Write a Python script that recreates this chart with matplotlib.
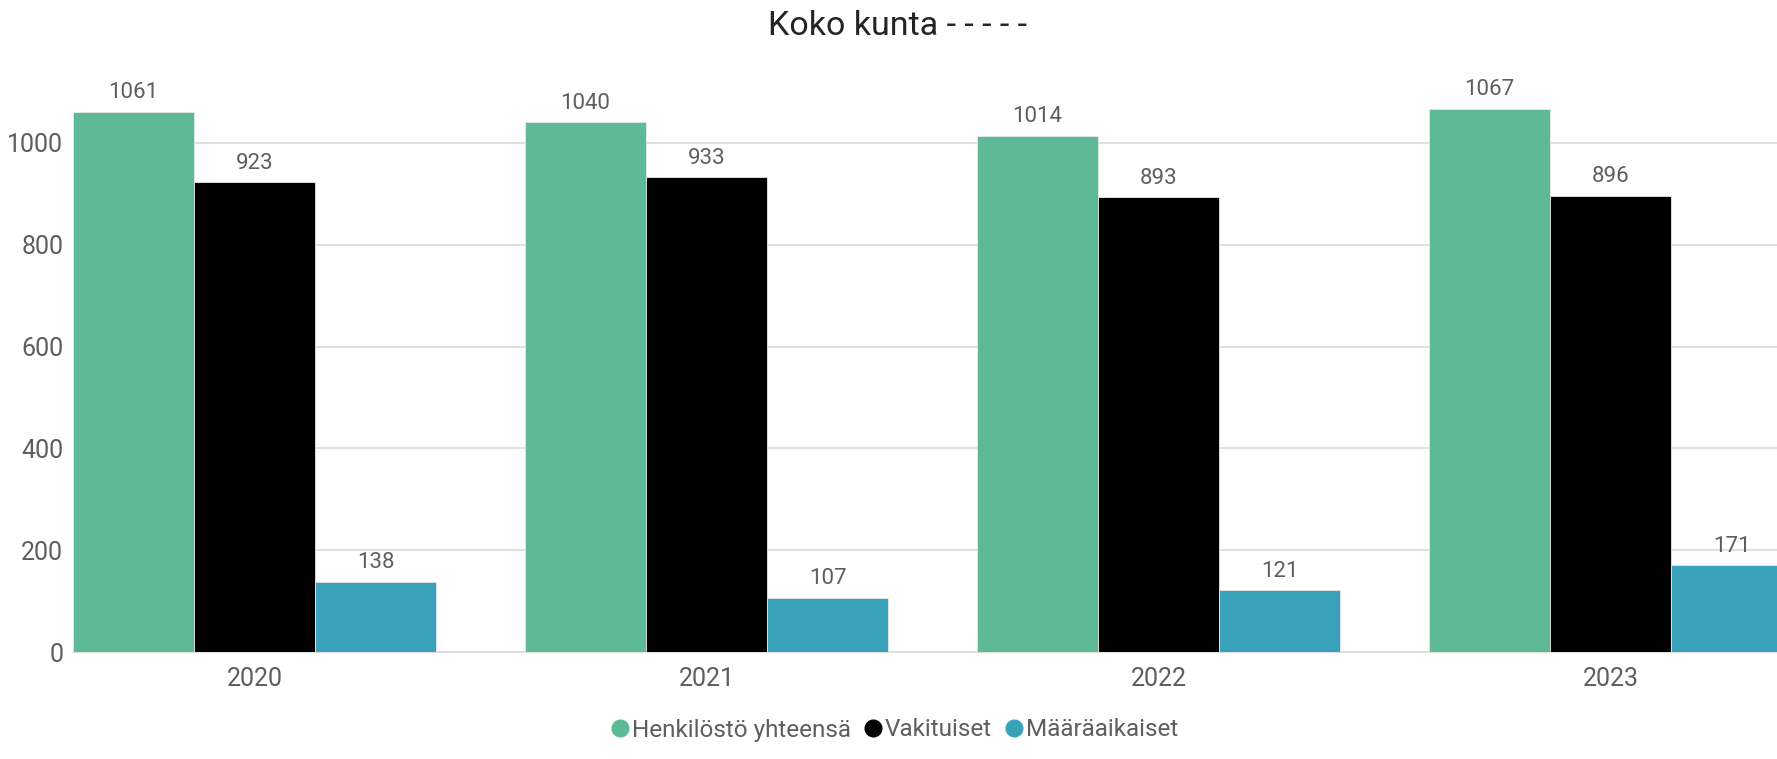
import matplotlib.pyplot as plt
import numpy as np

plt.rcParams['font.family'] = ['Roboto', 'DejaVu Sans']

years = ["2020", "2021", "2022", "2023"]
series_names = ["Henkilöstö yhteensä", "Vakituiset", "Määräaikaiset"]
total = [1061, 1040, 1014, 1067]
permanent = [923, 933, 893, 896]
fixed_term = [138, 107, 121, 171]
colors = ["#5DB996", "#000000", "#3AA1BB"]

txt = "#605E5C"

fig = plt.figure(figsize=(17.77, 7.59), dpi=100)
ax = fig.add_axes([73 / 1777, 107 / 759, 1 - 73 / 1777, (652 - 41) / 759])

x = np.arange(len(years))
w = 0.2677
for i, (vals, name, c) in enumerate(zip([total, permanent, fixed_term], series_names, colors)):
    bars = ax.bar(x + (i - 1) * w, vals, w, color=c, label=name, zorder=3,
                  edgecolor="#E8E8E8", linewidth=0.6)
    for b, v in zip(bars, vals):
        ax.annotate(str(v), (b.get_x() + b.get_width() / 2, v), xytext=(0, 6),
                    textcoords="offset points", ha="center", va="bottom",
                    fontsize=16, color=txt)

ax.set_xlim(-1.5 * w, (1777 - 73) / 452 - 1.5 * w)
ax.set_ylim(0, 1200)
ax.set_yticks([0, 200, 400, 600, 800, 1000])
ax.set_xticks(x)
ax.set_xticklabels(years)
ax.tick_params(axis="both", length=0, labelsize=18, colors=txt)
ax.tick_params(axis="x", pad=11)
ax.tick_params(axis="y", pad=7)
ax.grid(axis="y", color="#DADADA", linewidth=1.2, zorder=0)
for s in ["top", "right", "left"]:
    ax.spines[s].set_visible(False)
ax.spines["bottom"].set_color("#DADADA")
ax.spines["bottom"].set_linewidth(1.2)

fig.text(897 / 1777, 1 - 26 / 759, "Koko kunta - - - - -", ha="center", va="center",
         fontsize=24.5, color="#252423")

handles = [plt.Line2D([], [], marker="o", ls="", color=c, markersize=12) for c in colors]
fig.legend(handles, series_names, loc="center", bbox_to_anchor=(893 / 1777, 1 - 730 / 759),
           ncol=3, frameon=False, fontsize=17.5, labelcolor=txt, handletextpad=0.0,
           columnspacing=0.4, handlelength=1.0)

fig.savefig("out.png", dpi=100)
